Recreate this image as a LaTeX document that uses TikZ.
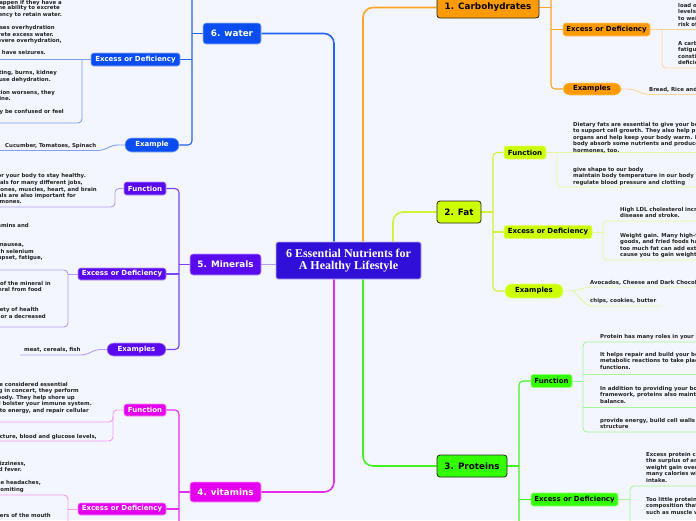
\documentclass[tikz,border=0pt]{standalone}
\usepackage{fontspec}
\setsansfont{DejaVu Sans}
\newfontfamily\titlefont{Liberation Serif}
\usetikzlibrary{backgrounds}

\definecolor{bgcol}{HTML}{F3F6FE}
\definecolor{hubcol}{HTML}{3010D8}
\definecolor{watercol}{HTML}{0A4DF2}
\definecolor{mincol}{HTML}{5A0AF0}
\definecolor{vitcol}{HTML}{E600F0}
\definecolor{carbcol}{HTML}{FF9A00}
\definecolor{fatcol}{HTML}{CCFF00}
\definecolor{protcol}{HTML}{33FF00}
\definecolor{notecol}{HTML}{222222}
\definecolor{waterln}{HTML}{2462F2}
\definecolor{waterlt}{HTML}{7E9EF6}
\definecolor{minln}{HTML}{7A44F4}
\definecolor{minlt}{HTML}{B49CF8}
\definecolor{vitln}{HTML}{E42CEE}
\definecolor{vitlt}{HTML}{F29AF4}
\definecolor{carbln}{HTML}{FFA424}
\definecolor{carblt}{HTML}{FFD59A}
\definecolor{fatln}{HTML}{D4F23A}
\definecolor{fatlt}{HTML}{E6F8A0}
\definecolor{protln}{HTML}{44F224}
\definecolor{protlt}{HTML}{A6F696}

\tikzset{
  hub/.style={fill=hubcol, draw=white!65!hubcol, line width=0.8pt, rounded corners=2pt,
    text=white, align=center, inner sep=0pt, minimum width=145pt, minimum height=37pt,
    font=\titlefont\bfseries\fontsize{12}{11.5}\selectfont},
  topic/.style={rounded corners=3pt, inner sep=0pt, minimum height=21pt,
    font=\sffamily\bfseries\fontsize{8.8}{10}\selectfont},
  darktopic/.style={topic, fill=#1, draw=black!85, line width=0.8pt, text=black},
  lighttopic/.style={topic, fill=#1, draw=white!60!#1, line width=0.6pt, text=white},
  subtopic/.style={rounded corners=2.5pt, inner sep=0pt, minimum height=13pt,
    font=\sffamily\bfseries\fontsize{7}{8}\selectfont},
  darksub/.style={subtopic, fill=#1, draw=white!45!#1, line width=0.6pt, text=black},
  lightsub/.style={subtopic, fill=#1, draw=white!55!#1, line width=0.6pt, text=white},
  pill/.style={rounded corners=6.5pt},
  note/.style={inner sep=0pt, font=\sffamily\bfseries\fontsize{5.4}{6.5}\selectfont,
    text=notecol, align=left},
  trunk/.style={line width=1.6pt, rounded corners=10pt},
  twig/.style={line width=1.1pt, rounded corners=4pt},
  rule/.style={line width=0.9pt, rounded corners=4pt},
}

\begin{document}
\begin{tikzpicture}[x=1pt, y=-1pt]
    \useasboundingbox (0,0) rectangle (696,520);
    \clip (0,0) rectangle (696,520);

    % Centre and main topics
    \node[hub] (hub) at (348.5,260.5) {6 Essential Nutrients for\\A Healthy Lifestyle};
    \node[darktopic=carbcol, minimum width=102pt] (carb) at (488,7.5) {1. Carbohydrates};
    \node[darktopic=fatcol, minimum width=44pt, minimum height=22pt] (fat) at (459,212) {2. Fat};
    \node[darktopic=protcol, minimum width=70pt, minimum height=22pt] (prot) at (472,466) {3. Proteins};
    \node[lighttopic=vitcol, minimum width=71pt, minimum height=20pt] (vit) at (225.5,492) {4. vitamins};
    \node[lighttopic=mincol, minimum width=71pt] (min) at (225.5,264.5) {5. Minerals};
    \node[lighttopic=watercol, minimum width=58pt] (water) at (232,33.5) {6. water};

    % 1. Carbohydrates
    \node[darksub=carbcol, minimum width=87pt] (carbed) at (606.5,29.5) {Excess or Deficiency};
    \node[darksub=carbcol, pill, minimum width=58pt, minimum height=12pt] (carbeg) at (592,89) {Examples};
    \node[note, anchor=north west] (cex1) at (678,2.7) {load of sugar into your blood, causing\\levels to spike and leading\\to weight gain and a higher\\risk of diabetes.};
    \node[note, anchor=north west] (cex2) at (678,41) {A carbohydrate deficiency may cause\\fatigue, headaches,\\constipation and nutrient\\deficiencies.};
    \node[note, anchor=north west] (ceg1) at (649,87) {Bread, Rice and Pasta};

    % 2. Fat
    \node[darksub=fatcol, minimum width=42pt] (ffn) at (525,152.5) {Function};
    \node[darksub=fatcol, minimum width=88pt] (fed) at (548,232) {Excess or Deficiency};
    \node[darksub=fatcol, pill, minimum width=58pt, minimum height=14pt] (feg) at (534,291) {Examples};
    \node[note, anchor=north west] (ffn1) at (573,122) {Dietary fats are essential to give your body energy and\\to support cell growth. They also help protect your\\organs and help keep your body warm. Fats help your\\body absorb some nutrients and produce important\\hormones, too.};
    \node[note, anchor=north west] (ffn2) at (573,167) {give shape to our body\\maintain body temperature in our body\\regulate blood pressure and clotting};
    \node[note, anchor=north west] (fex1) at (620,207) {High LDL cholesterol increases your risk of heart\\disease and stroke.};
    \node[note, anchor=north west] (fex2) at (620,233) {Weight gain. Many high-fat foods, such as baked\\goods, and fried foods have a lot of calories. Eating\\too much fat can add extra calories and\\cause you to gain weight.};
    \node[note, anchor=north west] (feg1) at (590,280) {Avocados, Cheese and Dark Chocolate};
    \node[note, anchor=north west] (feg2) at (590,298) {chips, cookies, butter};

    % 3. Proteins
    \node[darksub=protcol, minimum width=41pt] (pfn) at (551.5,381) {Function};
    \node[darksub=protcol, minimum width=87pt] (ped) at (574.5,499.5) {Excess or Deficiency};
    \node[note, anchor=north west] (pfn1) at (600,334) {Protein has many roles in your body.};
    \node[note, anchor=north west] (pfn2) at (600,352) {It helps repair and build your body's tissues, allows\\metabolic reactions to take place and coordinates bodily\\functions.};
    \node[note, anchor=north west] (pfn3) at (600,386) {In addition to providing your body with a structural\\framework, proteins also maintain proper pH and fluid\\balance.};
    \node[note, anchor=north west] (pfn4) at (600,418) {provide energy, build cell walls and maintain\\structure};
    \node[note, anchor=north west] (pex1) at (646,452) {Excess protein consumption can lead to\\the surplus of amino acids being stored as fat,\\weight gain over time, especially if too\\many calories with excess protein\\intake.};
    \node[note, anchor=north west] (pex2) at (646,497) {Too little protein may cause changes in body\\composition that develop over time,\\such as muscle wasting.};

    % 4. vitamins
    \node[lightsub=vitcol, minimum width=42pt, minimum height=12pt] (vfn) at (145,410) {Function};
    \node[lightsub=vitcol, minimum width=88pt, minimum height=12pt] (ved) at (122,509) {Excess or Deficiency};
    \node[note, anchor=base east] (vfn1) at (68,386) {Vitamins and minerals are considered essential};
    \node[note, anchor=base east] (vfn2) at (79,392) {nutrients because acting in concert, they perform};
    \node[note, anchor=base east] (vfn3) at (75,399) {hundreds of roles in the body. They help shore up};
    \node[note, anchor=base east] (vfn4) at (92,405) {bones, heal wounds, and bolster your immune system.};
    \node[note, anchor=base east] (vfn5) at (89,412) {They also convert food into energy, and repair cellular};
    \node[note, anchor=base east] (vfn6) at (97,438) {support bone structure, blood and glucose levels,};
    \node[note, anchor=base east] (vex1) at (26,465) {headaches, dizziness,};
    \node[note, anchor=base east] (vex2) at (22,471) {nausea and fever.};
    \node[note, anchor=base east] (vex3) at (41,484) {Too much vitamin D can cause headaches,};
    \node[note, anchor=base east] (vex4) at (24,491) {nausea and vomiting};
    \node[note, anchor=base east] (vde1) at (51,517) {sores or cracks at the corners of the mouth};

    % 5. Minerals
    \node[lightsub=mincol, minimum width=42pt] (mfn) at (145,188.5) {Function};
    \node[lightsub=mincol, minimum width=88pt, minimum height=12pt] (med) at (122,274) {Excess or Deficiency};
    \node[lightsub=mincol, pill, minimum width=59pt] (meg) at (136.5,349.5) {Examples};
    \node[note, anchor=base east] (mfn1) at (86,177) {Minerals are essential for your body to stay healthy.};
    \node[note, anchor=base east] (mfn2) at (83,184) {Your body uses minerals for many different jobs,};
    \node[note, anchor=base east] (mfn3) at (97,191) {including keeping your bones, muscles, heart, and brain};
    \node[note, anchor=base east] (mfn4) at (76,197) {working properly. Minerals are also important for};
    \node[note, anchor=base east] (mfn5) at (22,203) {making enzymes and hormones.};
    \node[note, anchor=base east] (mex1) at (29,227) {Minerals work together with vitamins and};
    \node[note, anchor=base east] (mex2) at (24,246) {can cause nausea,};
    \node[note, anchor=base east] (mex3) at (34,253) {too much selenium};
    \node[note, anchor=base east] (mex4) at (43,259) {stomach upset, fatigue,};
    \node[note, anchor=base east] (mde1) at (51,285) {when you don't get enough of the mineral in};
    \node[note, anchor=base east] (mde2) at (42,291) {or can't absorb the mineral from food};
    \node[note, anchor=base east] (mde3) at (39,311) {and can cause a variety of health};
    \node[note, anchor=base east] (mde4) at (46,318) {problems, such as weak bones or a decreased};
    \node[note, anchor=base west] (meg1) at (24,351) {meat, cereals, fish};

    % 6. water
    \node[lightsub=watercol, minimum width=89pt] (wed) at (135.5,59.5) {Excess or Deficiency};
    \node[lightsub=watercol, pill, minimum width=54pt, minimum height=14pt] (weg) at (152,145) {Example};
    \node[note, anchor=base east] (wex1) at (62,4) {Overhydration can happen if they have a};
    \node[note, anchor=base east] (wex2) at (60,9.5) {medical condition that affects the ability to excrete};
    \node[note, anchor=base east] (wex3) at (62,16) {water or a tendency to retain water.};
    \node[note, anchor=base east] (wex4) at (55,29) {In mild cases overhydration};
    \node[note, anchor=base east] (wex5) at (54,36) {the kidneys can excrete excess water.};
    \node[note, anchor=base east] (wex6) at (62,42) {In more severe overhydration,};
    \node[note, anchor=base east] (wex7) at (46,54) {they may have seizures.};
    \node[note, anchor=base east] (wde1) at (57,74) {Vomiting, diarrhea, sweating, burns, kidney};
    \node[note, anchor=base east] (wde2) at (51,81) {failure, and some medicines cause dehydration.};
    \node[note, anchor=base east] (wde3) at (55,94) {As dehydration worsens, they};
    \node[note, anchor=base east] (wde4) at (11,100) {produce less urine.};
    \node[note, anchor=base east] (wde5) at (64,113) {In severe cases, they may be confused or feel};
    \node[note, anchor=base west] (weg1) at (5,147) {Cucumber, Tomatoes, Spinach};

    \begin{scope}[on background layer]
        \fill[bgcol] (0,0) rectangle (696,520);

        % Main branches
        \draw[trunk, carbln] ([xshift=14.5pt]hub.north) |- (carb.west);
        \draw[trunk, fatln] ([xshift=44.5pt]hub.north) |- (fat.west);
        \draw[trunk, protln] ([xshift=14.5pt]hub.south) |- (prot.west);
        \draw[trunk, vitln] ([xshift=-14.5pt]hub.south) |- (vit.east);
        \draw[trunk, waterln] ([xshift=-14.5pt]hub.north) |- (water.east);
        \draw[trunk, minlt] (min.east -| hub.west) -- (min.east);

        % Carbohydrates
        \coordinate (carbfn) at (551,-12);
        \draw[twig, carbln] (carbfn) |- (carbeg.west);
        \draw[twig, carbln] (carb.east) -- (carb.east -| carbfn);
        \draw[twig, carbln] (carbed.west -| carbfn) -- (carbed.west);
        \draw[rule, carblt] (carbed.east) -- (700,29.5);
        \draw[rule, carblt] (662,29.5) -- (662,68) -- (700,68);
        \draw[rule, carblt] (carbeg.east) -- ++(11,0) -- (645,94.5) -- (700,94.5);

        % Fat
        \draw[twig, fatln] (ffn.west) -- (493,152.5) -- (493,291) -- (feg.west);
        \draw[twig, fatln] (fat.east) -- (493,212);
        \draw[twig, fatln] (493,232) -- (fed.west);
        \draw[rule, fatlt] (ffn.east) -- (700,152.5);
        \draw[rule, fatlt] (557,152.5) -- (557,187) -- (700,187);
        \draw[rule, fatlt] (fed.east) -- (603,232);
        \draw[rule, fatlt] (700,221) -- (603,221) -- (603,260) -- (700,260);
        \draw[rule, fatlt] (feg.east) -- ++(10,0) -- (588,287) -- (700,287);
        \draw[rule, fatlt] (573,291) -- (588,306) -- (662,306);

        % Proteins
        \draw[twig, protln] (pfn.west) -- (519,381) -- (519,530);
        \draw[twig, protln] (prot.east) -- (519,466);
        \draw[twig, protln] (519,499.5) -- (ped.west);
        \draw[rule, protlt] (pfn.east) -- (583,381);
        \draw[rule, protlt] (700,342) -- (583,342) -- (583,432) -- (700,432);
        \draw[rule, protlt] (583,374) -- (700,374);
        \draw[rule, protlt] (583,407) -- (700,407);
        \draw[rule, protlt] (ped.east) -- (630,499.5);
        \draw[rule, protlt] (700,486) -- (630,486) -- (630,530);

        % vitamins
        \draw[twig, vitln] (vfn.east) -- (179,410) -- (179,530);
        \draw[twig, vitln] (vit.west) -- (179,492);
        \draw[twig, vitln] (179,509) -- (ved.east);
        \draw[rule, vitlt] (vfn.west) -- (113,410) -- (113,441) -- (-5,441);
        \draw[rule, vitlt] (113,416) -- (113,422) -- (-5,422);
        \draw[rule, vitlt] (ved.west) -- (68,509);
        \draw[rule, vitlt] (-5,495) -- (68,495) -- (68,530);

        % Minerals
        \draw[twig, minln] (mfn.east) -- (179,188.5) -- (179,349.5) -- (meg.east);
        \draw[twig, minln] (min.west) -- (179,264.5);
        \draw[twig, minln] (179,274) -- (med.east);
        \draw[rule, minlt] (mfn.west) -- (115,188.5) -- (115,207) -- (-5,207);
        \draw[rule, minlt] (med.west) -- (68,274);
        \draw[rule, minlt] (-5,270) -- (68,270) -- (68,327) -- (-5,327);
        \draw[rule, minlt] (meg.west) -- ++(-10,0) -- (85,355) -- (20,355);

        % water
        \coordinate (waterfn) at (192,-12);
        \draw[twig, waterln] (waterfn) |- (weg.east);
        \draw[twig, waterln] (water.west) -- (water.west -| waterfn);
        \draw[twig, waterln] (wed.east) -- (wed.east -| waterfn);
        \draw[rule, waterlt] (wed.west) -- (-5,59.5);
        \draw[rule, waterlt] (82,59.5) -- (82,123) -- (-5,123);
        \draw[rule, waterlt] (weg.west) -- ++(-11,0) -- (102,150.5) -- (-5,150.5);
    \end{scope}
\end{tikzpicture}
\end{document}
